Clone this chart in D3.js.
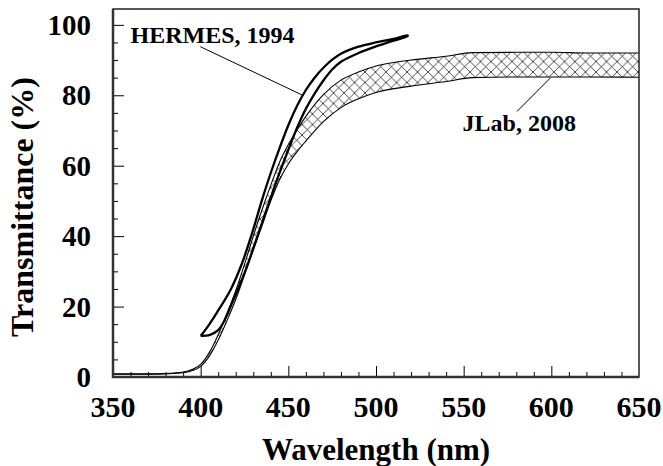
<!DOCTYPE html>
<html>
<head>
<meta charset="utf-8">
<script src="https://cdn.jsdelivr.net/npm/d3@7"></script>
<style>
  body { margin: 0; background: #fff; }
  text { font-family: "Liberation Serif", "Times New Roman", serif; font-weight: bold; fill: #000; }
</style>
</head>
<body>
<svg id="chart"></svg>
<script>
/* data */
const xTicks = [350, 400, 450, 500, 550, 600, 650];
const yTicks = [0, 20, 40, 60, 80, 100];

// JLab 2008 band (lower / upper edge, %)
const jlabNm   = [350, 360, 370, 380, 390, 395, 400, 405, 410, 415, 420, 425, 430, 435, 440, 445, 450, 455, 460, 470, 480, 490, 500, 520, 540, 555, 580, 600, 620, 650];
const jlabLow  = [0.8, 0.8, 0.8, 0.9, 1.2, 1.8, 3.0, 6.0, 10.5, 16, 22, 29, 36, 43, 50, 56, 60.5, 64, 67, 72.5, 76.5, 79, 80.8, 82.6, 83.9, 85, 85.2, 85.2, 85.2, 85.1];
const jlabHigh = [0.9, 0.9, 0.9, 1.0, 1.4, 2.1, 3.6, 7.0, 12, 18, 24.5, 32, 40, 47.5, 54.5, 61, 66, 70.2, 74, 80.2, 84.3, 86.6, 88.3, 90, 91.1, 92.1, 92.2, 92.2, 92.0, 92.0];

// HERMES 1994 closed loop: upper branch out, lower branch back
const hermesUpNm = [400, 403, 409, 417, 423.6, 429.3, 435, 440, 445, 450, 455, 460, 465, 470, 475, 480, 490, 500, 510, 518];
const hermesUpT  = [11.7, 13.6, 18.1, 24.7, 32.3, 40.8, 50.3, 58, 65, 71.5, 77, 81.5, 85, 87.8, 90.1, 91.8, 93.8, 95.0, 96.0, 97.0];
const hermesLoNm = [518, 510, 500, 490, 480, 475, 470, 465, 460, 455, 450, 445, 440, 435, 430, 425, 420, 416, 413, 410, 405, 400];
const hermesLoT  = [96.8, 95.5, 93.9, 92.0, 89.5, 87.3, 84.2, 80.5, 76.2, 70.8, 64.5, 58, 51, 43.8, 36.5, 29.5, 23.5, 18.8, 15.5, 13.3, 11.9, 11.7];

// labels with leader lines
const labels = [
  { text: "HERMES, 1994", nm: 360, t: 94.8, from: [399.8, 93.8], to: [457.8, 80.1] },
  { text: "JLab, 2008",   nm: 549.4, t: 69.9, from: [580.4, 75.4], to: [599.4, 84.9] }
];

/* chart */
const W = 663, H = 466;
const margin = { top: 9, right: 24, bottom: 89, left: 113 };
const width = W - margin.left - margin.right;
const height = H - margin.top - margin.bottom;

const svg = d3.select("#chart").attr("width", W).attr("height", H);
const g = svg.append("g").attr("transform", `translate(${margin.left},${margin.top})`);

const x = d3.scaleLinear().domain([350, 650]).range([0, width]);
const y = d3.scaleLinear().domain([0, 104.5]).range([height, 0]);

// hatch pattern for the band
const defs = svg.append("defs");
const pat = defs.append("pattern")
  .attr("id", "hatch")
  .attr("patternUnits", "userSpaceOnUse")
  .attr("width", 10.5).attr("height", 10.5);
pat.append("path")
  .attr("d", "M0,0 L10.5,10.5 M-5.25,5.25 L5.25,15.75 M5.25,-5.25 L15.75,5.25 M0,10.5 L10.5,0 M-5.25,5.25 L5.25,-5.25 M5.25,15.75 L15.75,5.25")
  .attr("stroke", "#000").attr("stroke-width", 0.7).attr("fill", "none");

const band = jlabNm.map((d, i) => ({ nm: d, lo: jlabLow[i], hi: jlabHigh[i] }));

g.append("path")
  .datum(band)
  .attr("d", d3.area().x(d => x(d.nm)).y0(d => y(d.lo)).y1(d => y(d.hi)).curve(d3.curveMonotoneX))
  .attr("fill", "url(#hatch)");

const edge = key => d3.line().x(d => x(d.nm)).y(d => y(d[key])).curve(d3.curveMonotoneX);
g.append("path").datum(band).attr("d", edge("lo")).attr("fill", "none").attr("stroke", "#000").attr("stroke-width", 1.1);
g.append("path").datum(band).attr("d", edge("hi")).attr("fill", "none").attr("stroke", "#000").attr("stroke-width", 1.1);

// HERMES loop
const loop = hermesUpNm.map((d, i) => [d, hermesUpT[i]])
  .concat(hermesLoNm.map((d, i) => [d, hermesLoT[i]]));
g.append("path")
  .datum(loop)
  .attr("d", d3.line().x(d => x(d[0])).y(d => y(d[1])).curve(d3.curveCatmullRom.alpha(0.5)))
  .attr("fill", "none")
  .attr("stroke", "#000")
  .attr("stroke-width", 2.3)
  .attr("stroke-linejoin", "miter");

// labels
labels.forEach(l => {
  g.append("line")
    .attr("x1", x(l.from[0])).attr("y1", y(l.from[1]))
    .attr("x2", x(l.to[0])).attr("y2", y(l.to[1]))
    .attr("stroke", "#000").attr("stroke-width", 1);
  g.append("text")
    .attr("x", x(l.nm)).attr("y", y(l.t))
    .attr("font-size", 24)
    .text(l.text);
});

// axes: ticks pointing inward
const xAxis = g.append("g").attr("transform", `translate(0,${height})`);
xAxis.call(d3.axisBottom(x).tickValues(d3.range(360, 650, 10).filter(v => v % 50 != 0)).tickSize(-5).tickFormat(""));
xAxis.call(a => a.append("g").call(d3.axisBottom(x).tickValues(xTicks.slice(1, -1)).tickSize(-11).tickFormat("")));
xAxis.selectAll(".domain").remove();
xAxis.selectAll("line").attr("stroke", "#000").attr("stroke-width", 1);

const yAxis = g.append("g");
yAxis.call(d3.axisLeft(y).tickValues(d3.range(5, 104, 5).filter(v => v % 20 != 0)).tickSize(-5).tickFormat(""));
yAxis.call(a => a.append("g").call(d3.axisLeft(y).tickValues(yTicks.slice(1)).tickSize(-11).tickFormat("")));
yAxis.selectAll(".domain").remove();
yAxis.selectAll("line").attr("stroke", "#000").attr("stroke-width", 1);

// tick labels
g.selectAll(".xlab").data(xTicks).enter().append("text")
  .attr("class", "xlab")
  .attr("x", d => x(d)).attr("y", height + 40)
  .attr("text-anchor", "middle")
  .attr("font-size", 30)
  .text(d => d);

g.selectAll(".ylab").data(yTicks).enter().append("text")
  .attr("class", "ylab")
  .attr("x", -22).attr("y", d => y(d))
  .attr("dy", "0.35em")
  .attr("text-anchor", "end")
  .attr("font-size", 29)
  .text(d => d);

// frame
g.append("rect")
  .attr("width", width).attr("height", height)
  .attr("fill", "none").attr("stroke", "#222").attr("stroke-width", 1.5);
g.append("path")
  .attr("d", `M0,0 V${height} H${width}`)
  .attr("fill", "none").attr("stroke", "#333").attr("stroke-width", 2.5);

// axis titles
g.append("text")
  .attr("x", width / 2).attr("y", height + 83)
  .attr("text-anchor", "middle")
  .attr("font-size", 31)
  .text("Wavelength (nm)");

g.append("text")
  .attr("transform", `translate(${-80},${height / 2 + 14}) rotate(-90)`)
  .attr("text-anchor", "middle")
  .attr("font-size", 32)
  .text("Transmittance (%)");
</script>
</body>
</html>
